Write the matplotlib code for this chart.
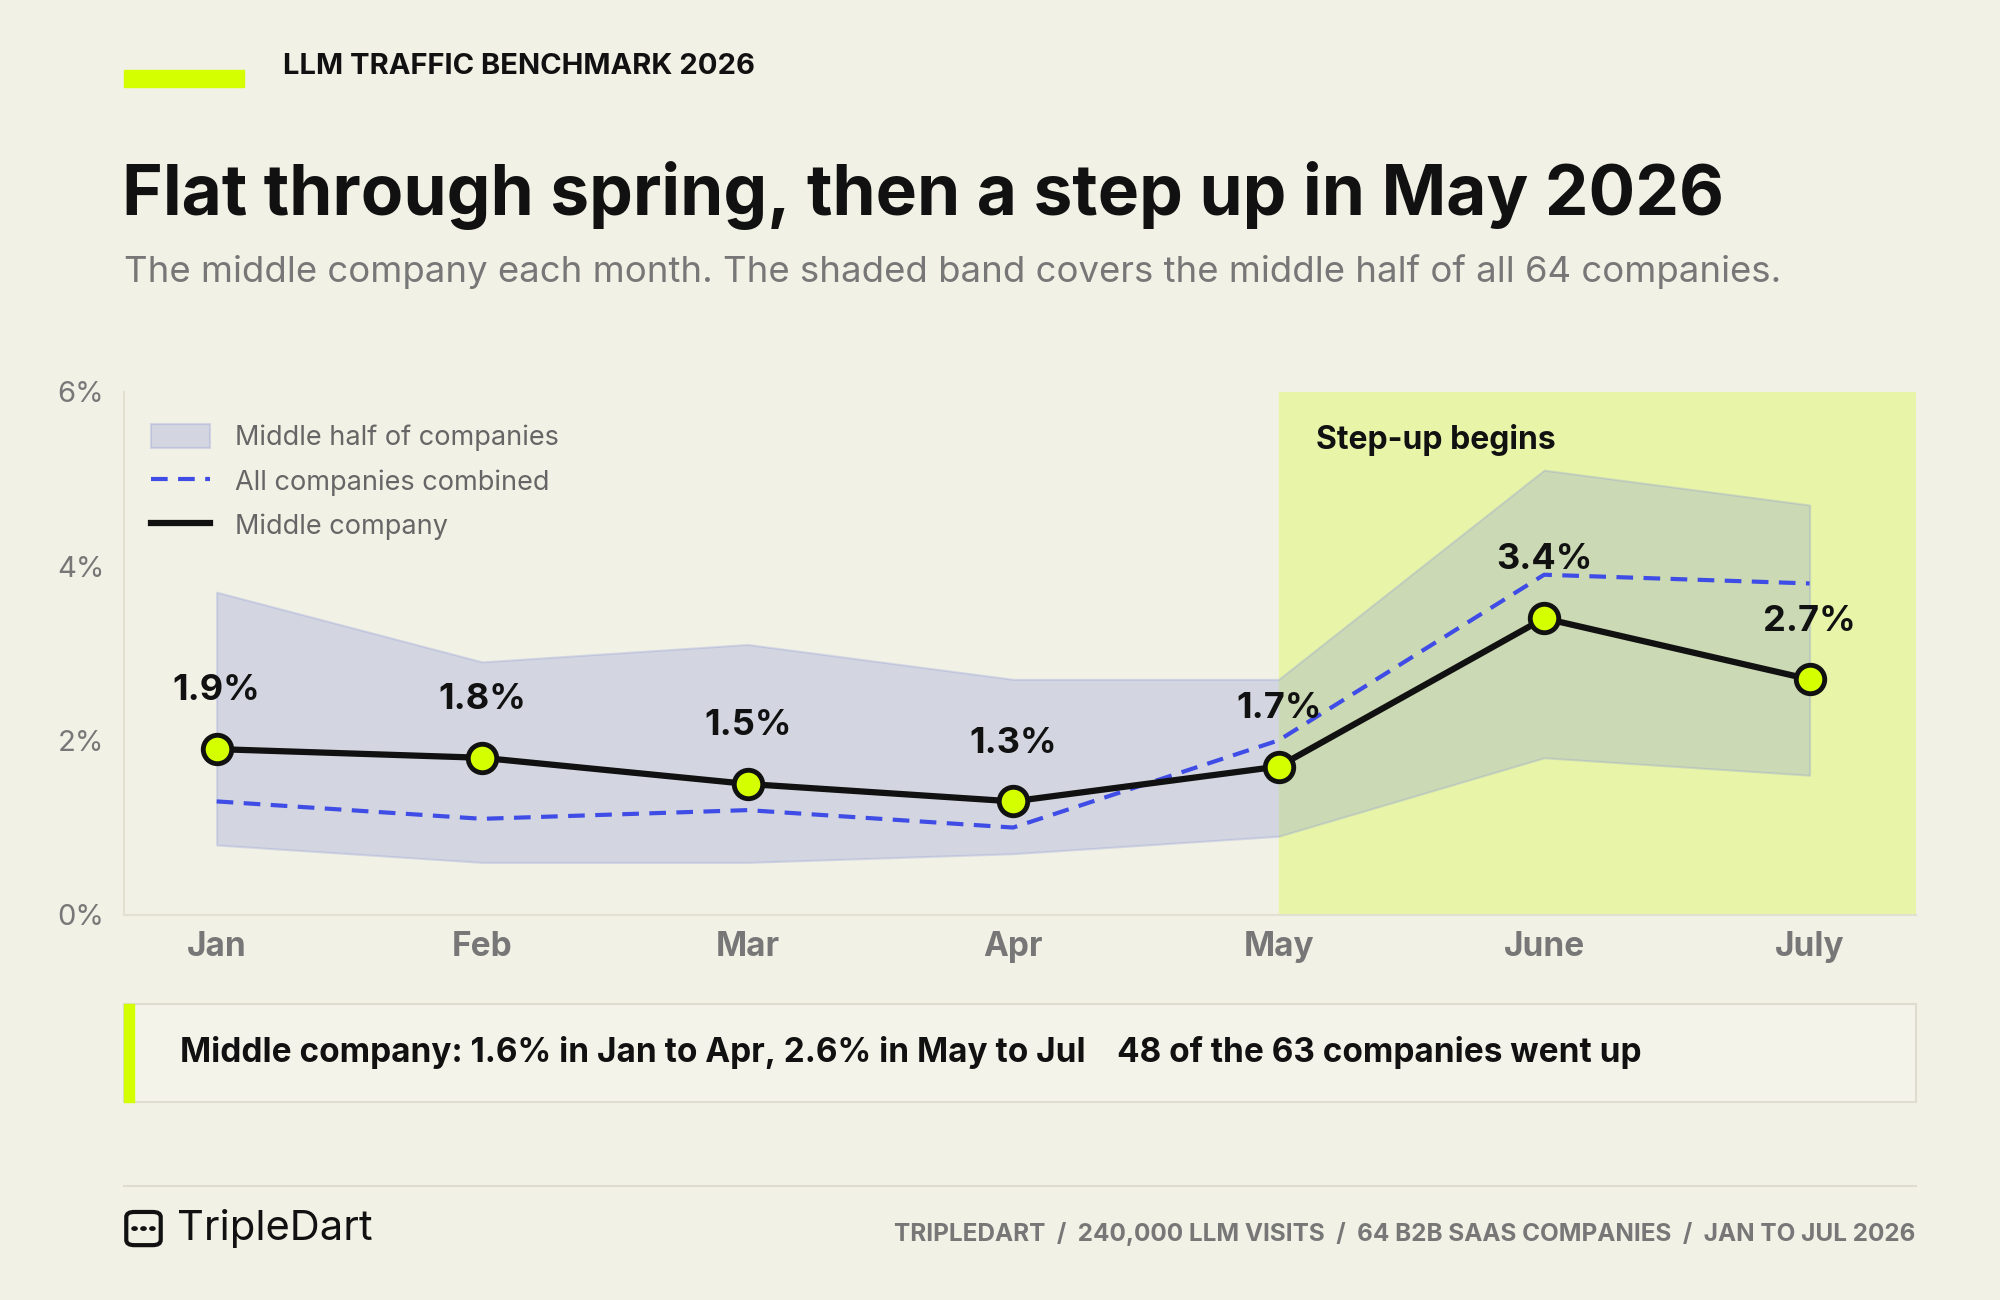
import matplotlib
matplotlib.use("Agg")
import matplotlib.pyplot as plt
from matplotlib.patches import Rectangle, FancyBboxPatch, Circle
from matplotlib.lines import Line2D

months = ["Jan", "Feb", "Mar", "Apr", "May", "June", "July"]
middle = [1.9, 1.8, 1.5, 1.3, 1.7, 3.4, 2.7]
combined = [1.3, 1.1, 1.2, 1.0, 2.0, 3.9, 3.8]
band_low = [0.8, 0.6, 0.6, 0.7, 0.9, 1.8, 1.6]
band_high = [3.7, 2.9, 3.1, 2.7, 2.7, 5.1, 4.7]
yticks = [0, 2, 4, 6]

BG = "#f2f1e6"
LIME = "#d4ff00"
GREY = "#777777"
FONT = "Inter"
plt.rcParams['font.family'] = [FONT, 'DejaVu Sans']

W, H = 1568, 1019
fig = plt.figure(figsize=(20, 13), dpi=100, facecolor=BG)

def fx(x): return x / W
def fy(y): return 1 - y / H

# kicker
fig.patches.append(Rectangle((fx(97), fy(68)), fx(191) - fx(97), fy(55) - fy(68), transform=fig.transFigure, color=LIME))
fig.text(fx(222), fy(52), "LLM TRAFFIC BENCHMARK 2026", fontsize=21, fontweight="bold", color="#111111", va="center")
fig.text(fx(96), fy(153), "Flat through spring, then a step up in May 2026", fontsize=50, fontweight="bold", color="#111111", va="center")
fig.text(fx(97), fy(213), "The middle company each month. The shaded band covers the middle half of all 64 companies.", fontsize=26.3, color=GREY, va="center")

ax = fig.add_axes([fx(97), fy(717), fx(1502) - fx(97), fy(307) - fy(717)])
ax.set_facecolor(BG)
x = list(range(len(months)))
ax.set_xlim(-0.35, 6.4)
ax.set_ylim(0, 6)
ax.axvspan(4, 6.4, color="#e8f5a8", zorder=0)
ax.fill_between(x, band_low, band_high, color="#8c9ad6", alpha=0.3, edgecolor="#8c9ad6", linewidth=1.5, zorder=1, label="Middle half of companies")
ax.plot(x, combined, color="#3f4de6", lw=3, dashes=(4, 2.5), zorder=2, label="All companies combined")
ax.plot(x, middle, color="#111111", lw=4.5, zorder=3, label="Middle company")
ax.scatter(x, middle, s=420, color=LIME, edgecolor="#111111", linewidth=3.5, zorder=4)
for xi, v in zip(x, middle):
    ax.annotate(f"{v}%", (xi, v), xytext=(0, 42), textcoords="offset points", ha="center", va="center",
                fontsize=26, fontweight="bold", color="#111111", zorder=5)
ax.text(4.14, 5.45, "Step-up begins", fontsize=23, fontweight="bold", color="#111111", va="center")
ax.set_xticks(x)
ax.set_xticklabels(months, fontsize=24, fontweight="bold", color=GREY)
ax.set_yticks(yticks)
ax.set_yticklabels([f"{t}%" for t in yticks], fontsize=21, color=GREY)
ax.tick_params(length=0, pad=12)
ax.tick_params(axis="y", pad=14)
for s in ["top", "right"]:
    ax.spines[s].set_visible(False)
for s in ["left", "bottom"]:
    ax.spines[s].set_color("#e2e0d0")
    ax.spines[s].set_linewidth(1.5)
leg = ax.legend(loc="upper left", bbox_to_anchor=(0.0, 0.99), frameon=False, fontsize=19.5, labelcolor="#666666",
                handlelength=2.2, handleheight=1.0, labelspacing=0.62, handletextpad=0.9, borderaxespad=0.6)

# callout
fig.patches.append(Rectangle((fx(97), fy(864)), fx(1502) - fx(97), fy(787) - fy(864), transform=fig.transFigure,
                             facecolor="#f4f3ea", edgecolor="#dedcd0", linewidth=1.5))
fig.patches.append(Rectangle((fx(97), fy(864)), fx(105) - fx(97), fy(787) - fy(864), transform=fig.transFigure, color=LIME))
fig.text(fx(141), fy(825), "Middle company: 1.6% in Jan to Apr, 2.6% in May to Jul    48 of the 63 companies went up",
         fontsize=24, fontweight="bold", color="#111111", va="center")

# footer
fig.add_artist(Line2D([fx(97), fx(1502)], [fy(930), fy(930)], color="#dedcd0", lw=1.5))
fig.patches.append(FancyBboxPatch((fx(99), fy(976)), fx(126) - fx(99), fy(950) - fy(976), transform=fig.transFigure,
                                  boxstyle="round,pad=0,rounding_size=0.004", facecolor="none", edgecolor="#111111", linewidth=3))
for dx in (105.5, 112.5, 119.5):
    fig.patches.append(Circle((fx(dx), fy(963)), 0.0013, transform=fig.transFigure, color="#111111"))
fig.text(fx(139), fy(963), "TripleDart", fontsize=30, color="#111111", va="center")
fig.text(fx(1502), fy(967), "TRIPLEDART  /  240,000 LLM VISITS  /  64 B2B SAAS COMPANIES  /  JAN TO JUL 2026",
         fontsize=17.5, fontweight="bold", color=GREY, ha="right", va="center")

fig.savefig("out.png", dpi=100, facecolor=BG)
